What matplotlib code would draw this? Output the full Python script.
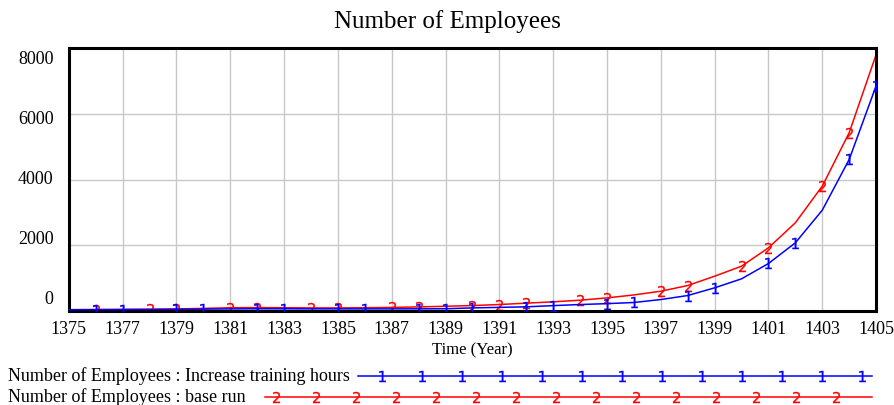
import numpy as np
import matplotlib
matplotlib.use("Agg")
import matplotlib.pyplot as plt
from matplotlib.lines import Line2D

# Data (Vensim-style run comparison)
years = np.arange(1375, 1406)
training = [40, 42, 45, 48, 52, 58, 65, 68, 68, 66, 65, 65, 66, 67, 70, 95,
            112, 128, 165, 198, 225, 260, 350, 472, 706, 980, 1446, 2076, 3068,
            4612, 6850]
base_run = [40, 45, 50, 55, 65, 80, 100, 105, 100, 95, 95, 100, 110, 125, 145,
            167, 198, 240, 280, 330, 400, 490, 603, 776, 1060, 1364, 1924, 2685,
            3800, 5425, 7800]
series_names = ["Number of Employees : Increase training hours",
                "Number of Employees : base run"]
# years where the run markers "1" / "2" sit
training_mark_years = [1376, 1377, 1379, 1380, 1382, 1383, 1385, 1386, 1388,
                       1389, 1390, 1392, 1393, 1395, 1396, 1398, 1399, 1401,
                       1402, 1404, 1405]
base_mark_years = [1376, 1378, 1379, 1381, 1382, 1384, 1385, 1387, 1388, 1390,
                   1391, 1392, 1394, 1395, 1397, 1398, 1400, 1401, 1403, 1404]
x_ticks = list(range(1375, 1406, 2))
y_ticks = [0, 2000, 4000, 6000, 8000]

plt.rcParams['font.family'] = ['Liberation Serif', 'DejaVu Serif']

fig = plt.figure(figsize=(8.94, 4.05), dpi=100)
ax = fig.add_axes([0.077, 0.232, 0.903, 0.6495])

yr = list(years)
ax.plot(years, training, color='#0000ff', lw=1.1, marker=r'$\mathsf{1}$',
        markersize=8, mew=0.2, markevery=[yr.index(y) for y in training_mark_years],
        zorder=3)
ax.plot(years, base_run, color='#ff0000', lw=1.1, marker=r'$\mathsf{2}$',
        markersize=8, mew=0.2, markevery=[yr.index(y) for y in base_mark_years],
        zorder=2)

ax.set_xlim(1375, 1405)
ax.set_ylim(0, 8000)
ax.set_xticks(x_ticks)
ax.set_yticks(y_ticks)
ax.set_yticklabels([])
ax.grid(True, color='#c8c8c8', lw=1)
ax.set_axisbelow(True)
ax.tick_params(length=0, labelsize=13)
ax.tick_params(axis='x', pad=7)
for s in ax.spines.values():
    s.set_linewidth(2.2)
    s.set_color('black')

# Vensim squeezes the value labels a little toward the middle
for v in y_ticks:
    shift = (4000 - v) / 4000 * 8.0
    ax.annotate(str(v), xy=(0, v), xycoords=('axes fraction', 'data'),
                xytext=(-11, shift), textcoords='offset points',
                ha='right', va='center', fontsize=13)

fig.text(0.5, 1 - 22 / 405, "Number of Employees", fontsize=18,
         ha='center', va='center')
ax.set_xlabel("Time (Year)", fontsize=12, labelpad=3)

# Vensim-style legend below the plot
legend_rows = [
    (series_names[0], '#0000ff', r'$\mathsf{1}$', 1 - 376 / 405, 358 / 894, 382 / 894),
    (series_names[1], '#ff0000', r'$\mathsf{2}$', 1 - 397 / 405, 265 / 894, 276 / 894),
]
for label, color, mk, yy, x0, first in legend_rows:
    fig.text(8 / 894, yy, label, fontsize=13, va='center', ha='left')
    xs = np.arange(first, 872 / 894, 40 / 894)
    xs = np.concatenate([[x0], xs, [872 / 894]])
    fig.add_artist(Line2D(xs, [yy] * len(xs), transform=fig.transFigure,
                          color=color, lw=1.1, marker=mk, markersize=8, mew=0.2,
                          markevery=list(range(1, len(xs) - 1))))

fig.savefig("out.png", dpi=100)
